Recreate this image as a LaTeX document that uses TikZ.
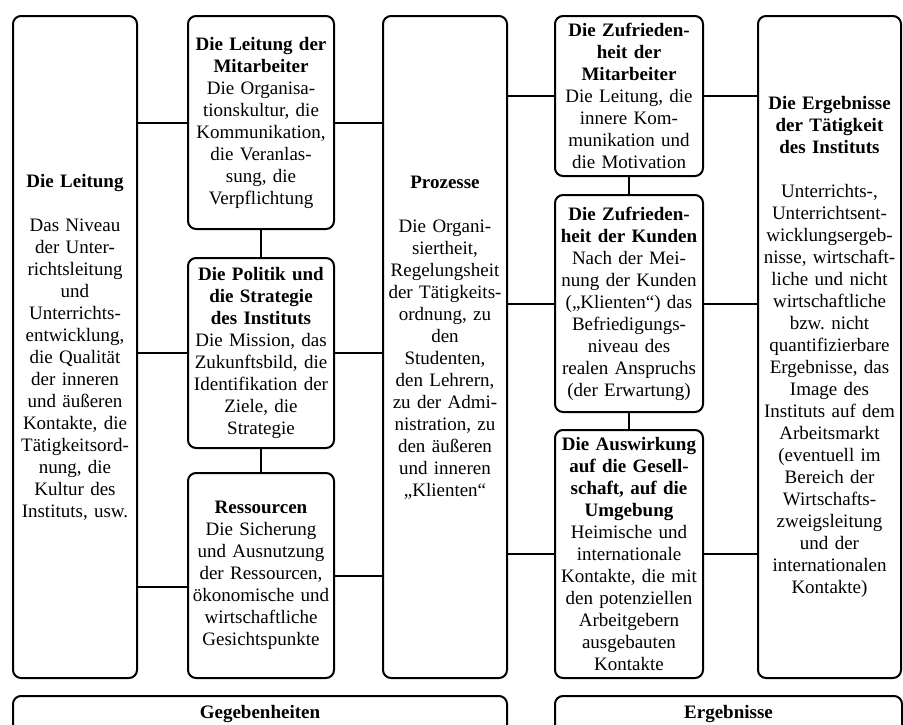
\documentclass[tikz,border=0pt]{standalone}
\usepackage{fontspec}
\setmainfont{Liberation Serif}
\begin{document}
\begin{tikzpicture}[x=1pt,y=-1pt,
        feld/.style={draw,line width=2pt,rounded corners=8pt,align=center,inner sep=3pt,font=\fontsize{19}{22}\selectfont},
        linie/.style={line width=2pt}]
        \useasboundingbox[fill=white] (0,0) rectangle (903,724);

        % linke Spalte
        \node[feld,text width=118pt,minimum height=662pt] (leitung) at (75,347) {\textbf{Die Leitung}\\[22pt]
                Das Niveau\\ der Unter-\\ richtsleitung\\ und\\ Unterrichts-\\ entwicklung,\\ die Qualität\\ der inneren\\
                und äußeren\\ Kontakte, die\\ Tätigkeitsord-\\ nung, die\\ Kultur des\\ Instituts, usw.};

        \node[feld,text width=140pt,minimum height=213pt] (mitarb) at (261,122.5) {\textbf{Die Leitung der}\\ \textbf{Mitarbeiter}\\
                Die Organisa-\\ tionskultur, die\\ Kommunikation,\\ die Veranlas-\\ sung, die\\ Verpflichtung};
        \node[feld,text width=140pt,minimum height=190pt] (politik) at (261,353) {\textbf{Die Politik und}\\ \textbf{die Strategie}\\ \textbf{des Instituts}\\
                Die Mission, das\\ Zukunftsbild, die\\ Identifikation der\\ Ziele, die\\ Strategie};
        \node[feld,text width=140pt,minimum height=205pt] (ress) at (261,575.5) {\textbf{Ressourcen}\\
                Die Sicherung\\ und Ausnutzung\\ der Ressourcen,\\ ökonomische und\\ wirtschaftliche\\ Gesichtspunkte};

        % mittlere Spalte
        \node[feld,text width=118pt,minimum height=662pt] (prozesse) at (445,347) {\textbf{Prozesse}\\[22pt]
                Die Organi-\\ siertheit,\\ Regelungsheit\\ der Tätigkeits-\\ ordnung, zu\\ den\\ Studenten,\\ den Lehrern,\\
                zu der Admi-\\ nistration, zu\\ den äußeren\\ und inneren\\ „Klienten“\\ \mbox{}};

        \node[feld,text width=142pt,minimum height=160pt] (zmitarb) at (629,96) {\textbf{Die Zufrieden-}\\ \textbf{heit der}\\ \textbf{Mitarbeiter}\\
                Die Leitung, die\\ innere Kom-\\ munikation und\\ die Motivation};
        \node[feld,text width=142pt,minimum height=217pt] (zkunden) at (629,303.5) {\textbf{Die Zufrieden-}\\ \textbf{heit der Kunden}\\
                Nach der Mei-\\ nung der Kunden\\ („Klienten“) das\\ Befriedigungs-\\ niveau des\\ realen Anspruchs\\ (der Erwartung)};
        \node[feld,text width=142pt,minimum height=248pt] (ausw) at (629,554) {\textbf{Die Auswirkung}\\ \textbf{auf die Gesell-}\\ \textbf{schaft, auf die}\\ \textbf{Umgebung}\\
                Heimische und\\ internationale\\ Kontakte, die mit\\ den potenziellen\\ Arbeitgebern\\ ausgebauten\\ Kontakte};

        % rechte Spalte
        \node[feld,text width=137pt,minimum height=662pt] (ergtaet) at (829.5,347) {\textbf{Die Ergebnisse}\\ \textbf{der Tätigkeit}\\ \textbf{des Instituts}\\[22pt]
                Unterrichts-,\\ Unterrichtsent-\\ wicklungsergeb-\\ nisse, wirtschaft-\\ liche und nicht\\ wirtschaftliche\\ bzw.\ nicht\\
                quantifizierbare\\ Ergebnisse, das\\ Image des\\ Instituts auf dem\\ Arbeitsmarkt\\ (eventuell im\\ Bereich der\\
                Wirtschafts-\\ zweigsleitung\\ und der\\ internationalen\\ Kontakte)};

        % untere Kaesten
        \node[feld,anchor=north,text width=488pt,text height=19pt,text depth=45pt] (gegeb) at (260,695) {\textbf{Gegebenheiten}};
        \node[feld,anchor=north,text width=341pt,text height=19pt,text depth=45pt] (ergeb) at (728.5,695) {\textbf{Ergebnisse}};

        % Verbindungen
        \draw[linie] (leitung.east |- mitarb.west) -- (mitarb.west);
        \draw[linie] (leitung.east |- politik.west) -- (politik.west);
        \draw[linie] (leitung.east |- ress.west) ++(0,11.5) -- ([yshift=-11.5pt]ress.west);
        \draw[linie] (mitarb.east) -- (mitarb.east -| prozesse.west);
        \draw[linie] (politik.east) -- (politik.east -| prozesse.west);
        \draw[linie] (ress.east) -- (ress.east -| prozesse.west);
        \draw[linie] (mitarb) -- (politik);
        \draw[linie] (politik) -- (ress);

        \draw[linie] (prozesse.east |- zmitarb.west) -- (zmitarb.west);
        \draw[linie] (prozesse.east |- zkunden.west) -- (zkunden.west);
        \draw[linie] (prozesse.east |- ausw.west) -- (ausw.west);
        \draw[linie] (zmitarb.east) -- (zmitarb.east -| ergtaet.west);
        \draw[linie] (zkunden.east) -- (zkunden.east -| ergtaet.west);
        \draw[linie] (ausw.east) -- (ausw.east -| ergtaet.west);
        \draw[linie] (zmitarb) -- (zkunden);
        \draw[linie] (zkunden) -- (ausw);

\end{tikzpicture}
\end{document}
